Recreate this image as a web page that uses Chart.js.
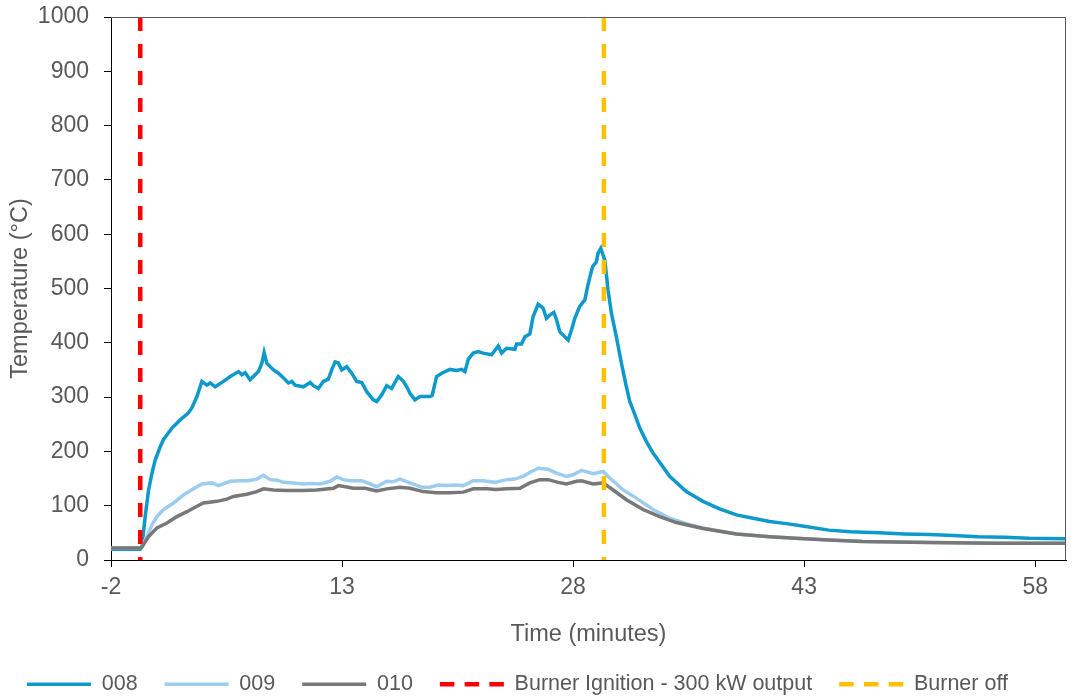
<!DOCTYPE html>
<html>
<head>
<meta charset="utf-8">
<script src="https://cdn.jsdelivr.net/npm/chart.js@4.4.0/dist/chart.umd.min.js"></script>
<style>
  html, body { margin: 0; padding: 0; background: #fff; }
</style>
</head>
<body>
<canvas id="tempChart" width="1086" height="696"></canvas>
<script>
// ---- data ----
const xTicks = [-2, 13, 28, 43, 58];

const time008 = [-2, -0.1, 0.01, 0.22, 0.44, 0.66, 0.87, 1.2, 1.41, 1.96, 2.49, 3.0, 3.25, 3.58, 3.9, 4.22, 4.44, 4.76, 5.3, 5.74, 6.28, 6.5, 6.71, 7.03, 7.57, 7.79, 7.94, 8.12, 8.55, 8.87, 9.2, 9.52, 9.74, 9.95, 10.49, 10.93, 11.14, 11.46, 11.79, 12.11, 12.33, 12.55, 12.76, 12.98, 13.3, 13.63, 13.95, 14.28, 14.6, 15.03, 15.25, 15.57, 15.9, 16.22, 16.65, 16.98, 17.2, 17.41, 17.73, 18.06, 18.71, 18.85, 19.14, 19.47, 20.0, 20.44, 20.76, 20.98, 21.2, 21.52, 21.84, 22.16, 22.71, 23.14, 23.36, 23.68, 24.22, 24.33, 24.65, 24.87, 25.19, 25.4, 25.73, 26.05, 26.27, 26.49, 26.75, 26.92, 27.14, 27.46, 27.68, 27.9, 28.11, 28.43, 28.76, 28.97, 29.26, 29.51, 29.62, 29.8, 30.06, 30.27, 30.49, 30.81, 31.14, 31.46, 31.68, 31.9, 32.33, 32.76, 33.19, 34.27, 35.35, 36.43, 37.51, 38.6, 39.68, 40.76, 41.84, 43.0, 44.6, 46.0, 47.84, 49.5, 51.1, 52.7, 54.3, 56.0, 57.6, 60];
const temp008 = [20, 20, 25, 80, 129, 160, 184, 209, 222, 243, 258, 270, 280, 301, 329, 322, 326, 319, 329, 338, 347, 341, 345, 332, 347, 362, 382, 362, 350, 344, 335, 326, 329, 322, 319, 327, 321, 316, 329, 333, 350, 365, 363, 350, 356, 344, 329, 327, 310, 295, 292, 304, 321, 316, 338, 329, 319, 307, 295, 301, 301, 303, 338, 344, 351, 349, 351, 347, 370, 381, 384, 381, 378, 394, 381, 390, 388, 398, 398, 411, 416, 448, 471, 464, 445, 451, 456, 443, 420, 411, 405, 424, 445, 467, 479, 507, 540, 549, 565, 574, 552, 497, 454, 411, 362, 319, 292, 276, 243, 218, 197, 154, 126, 108, 94, 83, 77, 71, 67, 62, 55, 52, 50, 48, 47, 45, 43, 42, 40, 39];

const time009 = [-2, -0.1, 0.01, 0.33, 0.66, 0.98, 1.41, 2.06, 2.71, 3.36, 3.9, 4.55, 4.98, 5.74, 6.39, 6.92, 7.46, 7.9, 8.33, 8.8, 9.19, 9.84, 10.49, 11.0, 11.57, 12.22, 12.66, 13.08, 13.52, 14.28, 14.82, 15.25, 15.9, 16.3, 16.76, 17.41, 18.17, 18.71, 19.25, 19.8, 20.33, 20.87, 21.52, 22.16, 22.92, 23.68, 24.2, 24.76, 25.3, 25.73, 26.38, 26.92, 27.57, 28.0, 28.54, 29.3, 29.95, 30.38, 31.25, 32.11, 33.19, 34.27, 35.35, 36.43, 38.6, 40.76, 42.43, 44.6, 46.8, 51.1, 55.5, 60];
const temp009 = [22, 22, 25, 43, 65, 80, 93, 105, 120, 131, 140, 142, 137, 145, 146, 146, 149, 156, 148, 147, 143, 142, 140, 141, 140, 145, 153, 148, 146, 146, 140, 135, 145, 144, 149, 142, 134, 134, 138, 137, 138, 137, 146, 146, 143, 148, 149, 154, 163, 169, 167, 160, 154, 157, 165, 159, 163, 151, 129, 114, 93, 77, 67, 59, 48, 43, 40, 37, 34, 32, 31, 31];

const time010 = [-2, -0.1, 0.01, 0.44, 0.98, 1.63, 2.28, 2.93, 3.58, 4.0, 4.88, 5.52, 5.95, 6.82, 7.46, 7.9, 8.55, 9.41, 10.49, 11.36, 12.44, 12.76, 13.41, 13.73, 14.5, 15.25, 15.9, 16.76, 17.41, 18.27, 19.14, 20.0, 20.87, 21.52, 22.38, 23.0, 23.68, 24.55, 25.19, 25.84, 26.38, 27.03, 27.57, 28.22, 28.54, 29.3, 29.95, 30.6, 31.46, 32.54, 33.62, 34.7, 36.43, 38.6, 40.76, 42.43, 44.6, 46.8, 51.1, 55.5, 60];
const temp010 = [22, 22, 24, 43, 59, 68, 80, 89, 99, 105, 108, 112, 117, 121, 126, 131, 129, 128, 128, 129, 132, 137, 134, 132, 132, 127, 131, 134, 132, 126, 124, 124, 125, 131, 131, 130, 131, 132, 142, 148, 148, 143, 140, 145, 146, 140, 142, 129, 111, 93, 80, 69, 58, 48, 43, 40, 37, 34, 32, 31, 31];

const ignitionTime = [-0.1, -0.1];
const burnerOffTime = [30, 30];
const markerTemps = [1000, 0];

const labels = ["008", "009", "010", "Burner Ignition - 300 kW output", "Burner off"];

// ---- helpers ----
const toPoints = (xs, ys) => xs.map((x, i) => ({ x: x, y: ys[i] }));
const textColor = "#595959";
const font = "'Liberation Sans', Arial, sans-serif";

// top and right frame of the plot area
const frameLines = {
  id: "frameLines",
  afterDraw(chart) {
    const { ctx, chartArea } = chart;
    ctx.save();
    ctx.strokeStyle = "#595959";
    ctx.lineWidth = 1;
    ctx.beginPath();
    ctx.moveTo(chartArea.left, chartArea.top + 0.5);
    ctx.lineTo(chartArea.right - 0.5, chartArea.top + 0.5);
    ctx.lineTo(chartArea.right - 0.5, chartArea.bottom);
    ctx.stroke();
    ctx.restore();
  }
};

const lineSet = (label, data, color, order) => ({
  label: label,
  data: data,
  borderColor: color,
  backgroundColor: color,
  borderWidth: 3.5,
  pointRadius: 0,
  tension: 0,
  order: order
});

new Chart(document.getElementById("tempChart"), {
  type: "line",
  data: {
    datasets: [
      lineSet(labels[0], toPoints(time008, temp008), "#0E99CC", 5),
      lineSet(labels[1], toPoints(time009, temp009), "#9DCDEE", 4),
      lineSet(labels[2], toPoints(time010, temp010), "#787878", 3),
      Object.assign(lineSet(labels[3], toPoints(ignitionTime, markerTemps), "#FF0000", 1), { borderWidth: 4.5, borderDash: [14, 13] }),
      Object.assign(lineSet(labels[4], toPoints(burnerOffTime, markerTemps), "#FFC000", 2), { borderWidth: 4.5, borderDash: [14, 13] })
    ]
  },
  options: {
    responsive: false,
    animation: false,
    events: [],
    layout: { padding: { left: 0, right: 20, top: 17, bottom: -9 } },
    plugins: {
      tooltip: { enabled: false },
      legend: {
        position: "bottom",
        align: "start",
        labels: {
          usePointStyle: true,
          pointStyle: "line",
          pointStyleWidth: 64,
          boxWidth: 64,
          padding: 27,
          color: textColor,
          font: { family: font, size: 21.5 },
          sort: (a, b) => a.datasetIndex - b.datasetIndex,
          generateLabels(chart) {
            const items = Chart.defaults.plugins.legend.labels.generateLabels(chart);
            items.forEach((it) => {
              const ds = chart.data.datasets[it.datasetIndex];
              it.pointStyle = "line";
              it.strokeStyle = ds.borderColor;
              it.lineWidth = ds.borderDash ? 4.5 : 3.5;
              it.lineCap = "butt";
              it.lineDash = ds.borderDash ? [14.5, 10.25] : [];
            });
            return items;
          }
        }
      }
    },
    scales: {
      x: {
        type: "linear",
        min: -2,
        max: 60,
        afterBuildTicks: (scale) => { scale.ticks = xTicks.map((v) => ({ value: v })); },
        afterFit: (scale) => { scale.height = 86.5; },
        grid: { drawOnChartArea: false, tickLength: 7, color: "#000" },
        border: { color: "#000", width: 1 },
        ticks: { color: textColor, padding: 7, font: { family: font, size: 23 }, maxRotation: 0, callback: (v) => String(v) },
        title: { display: true, text: "Time (minutes)", color: textColor, padding: 0, font: { family: font, size: 23.5, lineHeight: 1 } }
      },
      y: {
        min: 0,
        max: 1000,
        afterFit: (scale) => { scale.width = 111; scale.paddingTop = 0; scale.paddingBottom = 0; },
        grid: { drawOnChartArea: false, tickLength: 7, color: "#000" },
        border: { color: "#000", width: 1 },
        ticks: { stepSize: 100, color: textColor, padding: 15, font: { family: font, size: 23 }, callback: (v) => String(v) },
        title: { display: true, text: "Temperature (°C)", color: textColor, padding: { top: 8.5, bottom: 0 }, font: { family: font, size: 23.5, lineHeight: 1 } }
      }
    }
  },
  plugins: [frameLines]
});
</script>
</body>
</html>
